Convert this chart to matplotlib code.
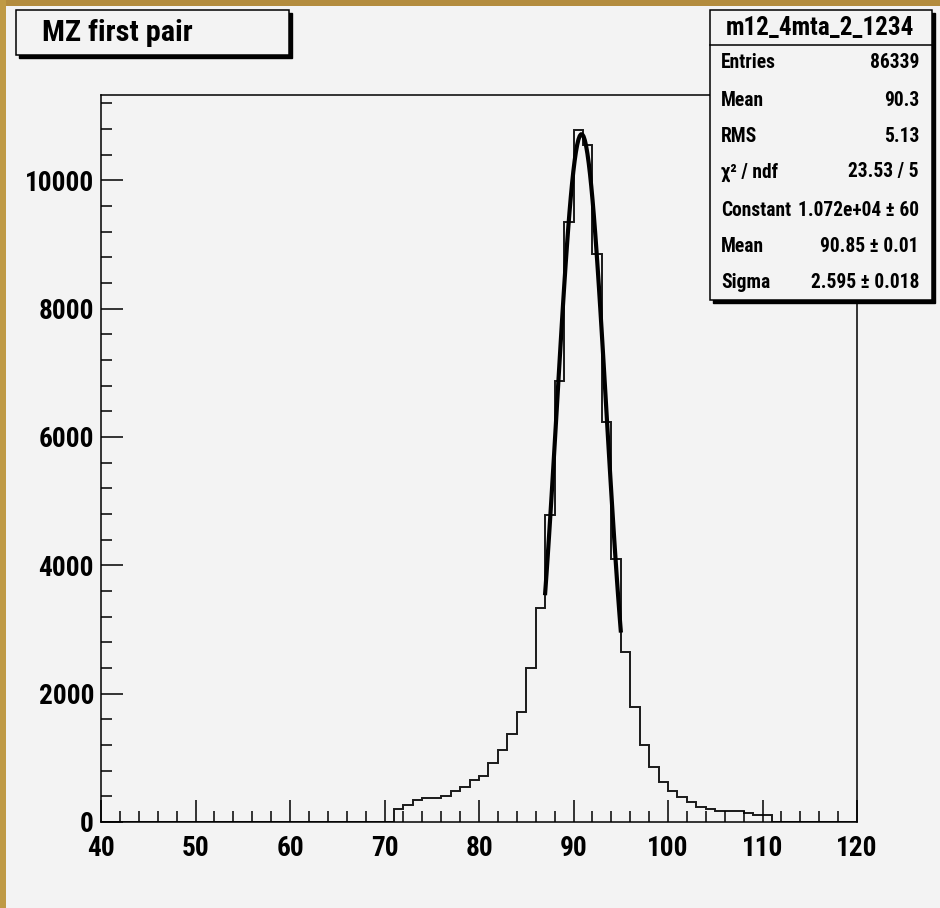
import numpy as np
import matplotlib
matplotlib.use("Agg")
from matplotlib import pyplot as plt
from matplotlib import font_manager as fm
from matplotlib.patches import Rectangle
from matplotlib.ticker import MultipleLocator

# histogram: 1 GeV bins from 40 to 120, filled bins 71..110
bin_edges = np.arange(40, 121, 1)
first_bin = 71
filled_counts = [205, 265, 345, 375, 375, 405, 485, 550, 655, 720,
                 920, 1125, 1375, 1720, 2405, 3335, 4785, 6870, 9350, 10790,
                 10550, 8850, 6240, 4100, 2655, 1795, 1205, 860, 625, 485,
                 390, 310, 235, 205, 172, 172, 172, 145, 112, 112]
counts = np.zeros(len(bin_edges) - 1)
counts[first_bin - 40:first_bin - 40 + len(filled_counts)] = filled_counts

# gaussian fit parameters (from the stats box)
fit_const = 1.072e4
fit_mean = 90.85
fit_sigma = 2.595
fit_range = (87.0, 95.0)

title = "MZ first pair"
stats_title = "m12_4mta_2_1234"
stats_labels = ["Entries", "Mean", "RMS", "χ² / ndf", "Constant", "Mean", "Sigma"]
stats_values = ["86339", "90.3", "5.13", "23.53 / 5", "1.072e+04 ± 60",
                "90.85 ± 0.01", "2.595 ± 0.018"]


def pick_font():
    # ROOT uses a narrow helvetica bold; look for something close
    names = ['Liberation Sans Narrow', 'Arial Narrow', 'Nimbus Sans Narrow',
             'Roboto Condensed', 'Open Sans Condensed', 'DejaVu Sans Condensed']
    fonts = fm.fontManager.ttflist
    for n in names:
        for f in fonts:
            if f.name == n and str(f.weight) in ('bold', '700'):
                return fm.FontProperties(fname=f.fname)
    for f in fonts:
        narrow = ('Narrow' in f.name or 'Condensed' in f.name or
                  'condensed' in str(f.stretch))
        if narrow and str(f.weight) in ('bold', '700') and f.style == 'normal':
            return fm.FontProperties(fname=f.fname)
    return fm.FontProperties(family='Liberation Sans', weight='bold')


font = pick_font()

W, H = 940, 908
bg = '#f3f3f3'
fig = plt.figure(figsize=(W / 100, H / 100), dpi=100, facecolor=bg)
renderer = fig.canvas.get_renderer()


def fx(x):
    return x / W


def fy(y):
    return 1 - y / H


def fit_size(sample, width_px, size=20):
    # font size that gives the sample string the width seen in the reference
    t = fig.text(0, 0, sample, fontproperties=font, fontsize=size)
    w = t.get_window_extent(renderer).width
    t.remove()
    return size * width_px / w


tick_size = fit_size("10000", 69)
title_size = fit_size(title, 150)
head_size = fit_size(stats_title, 188)
row_size = fit_size("Constant 1.072e+04 ± 60", 196)

# gold frame on top and left
fig.patches.append(Rectangle((0, fy(6)), 1, 6 / H, transform=fig.transFigure,
                             facecolor='#b38c3e', edgecolor='none', zorder=0))
fig.patches.append(Rectangle((0, 0), 6 / W, 1, transform=fig.transFigure,
                             facecolor='#bf9a45', edgecolor='none', zorder=0))

ax = fig.add_axes([fx(101), fy(822), (857 - 101) / W, (822 - 95) / H])
ax.set_facecolor(bg)
ax.stairs(counts, bin_edges, color='#1a1a1a', linewidth=1.4, baseline=0)

xf = np.linspace(fit_range[0], fit_range[1], 60)
yf = fit_const * np.exp(-0.5 * ((xf - fit_mean) / fit_sigma) ** 2)
ax.plot(xf, yf, color='black', linewidth=3.0)

ax.set_xlim(40, 120)
ax.set_ylim(0, 1.05 * counts.max())
ax.xaxis.set_major_locator(MultipleLocator(10))
ax.xaxis.set_minor_locator(MultipleLocator(2))
ax.yaxis.set_major_locator(MultipleLocator(2000))
ax.yaxis.set_minor_locator(MultipleLocator(400))
ax.tick_params(which='both', direction='in', width=1.1, top=False, right=False)
ax.tick_params(which='major', length=16)
ax.tick_params(which='minor', length=8)
ax.tick_params(axis='x', pad=9.5)
ax.tick_params(axis='y', pad=5)
for lab in ax.get_xticklabels() + ax.get_yticklabels():
    lab.set_fontproperties(font)
    lab.set_fontsize(tick_size)
for s in ax.spines.values():
    s.set_linewidth(1.1)


def box(x0, y0, x1, y1, shadow=3):
    fig.patches.append(Rectangle((fx(x0 + shadow), fy(y1 + shadow)), (x1 - x0) / W,
                                 (y1 - y0) / H, transform=fig.transFigure,
                                 facecolor='black', edgecolor='black', zorder=5))
    fig.patches.append(Rectangle((fx(x0), fy(y1)), (x1 - x0) / W, (y1 - y0) / H,
                                 transform=fig.transFigure, facecolor=bg,
                                 edgecolor='black', linewidth=1.1, zorder=6))


# title box
box(16, 10, 289, 55)
fig.text(fx(42), fy(33), title, fontproperties=font, fontsize=title_size,
         ha='left', va='center', zorder=7)

# stats box
box(710, 10, 932, 300)
fig.add_artist(plt.Line2D([fx(710), fx(932)], [fy(45), fy(45)], color='black',
                          linewidth=1.1, transform=fig.transFigure, zorder=7))
fig.text(fx(820), fy(28), stats_title, fontproperties=font, fontsize=head_size,
         ha='center', va='center', zorder=7)
row_y = [62, 100, 137, 172, 210, 246, 282]
for lab, val, y in zip(stats_labels, stats_values, row_y):
    fig.text(fx(721), fy(y), lab, fontproperties=font, fontsize=row_size,
             ha='left', va='center', zorder=7)
    fig.text(fx(919), fy(y), val, fontproperties=font, fontsize=row_size,
             ha='right', va='center', zorder=7)

fig.savefig("out.png", dpi=100, facecolor=bg)
